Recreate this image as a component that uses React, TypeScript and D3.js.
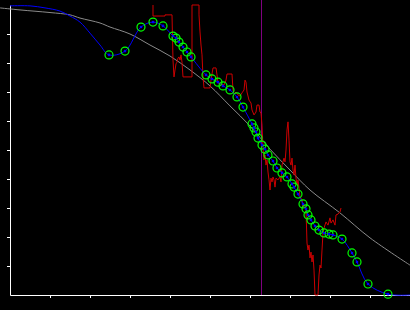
import React, { useEffect, useRef } from "react";
import * as d3 from "d3";

const W = 410;
const H = 310;

// x: time units (0..400), y: percent (0..100)
const xTicks = [40, 80, 120, 160, 200, 240, 280, 320, 360];
const yTicks = [10, 20, 30, 40, 50, 60, 70, 80, 90];

const markerTime = 251;

const modelCurve: [number, number][] = [
  [-10, 99.0], [10, 98.3], [40, 97.4], [60, 96.6], [70, 95.5], [90, 93.8],
  [100, 92.4], [120, 90.0], [140, 86.2], [160, 82.4], [180, 77.6], [200, 72.1],
  [220, 65.2], [240, 58.3], [260, 50.3], [280, 43.1], [300, 36.2], [330, 28.3],
  [360, 19.7], [400, 10.3],
];

const observed: [number, number][] = [
  [143, 100], [143, 96.2], [155, 96.2], [155, 96.6], [162, 96.6], [163, 81.0],
  [164, 75.2], [165, 77.6], [166, 79.7], [167, 80.3], [168, 81.7], [169, 82.1],
  [170, 81.0], [171, 82.8], [172, 80.3], [173, 75.2], [182, 75.2], [182, 100],
  [189, 100], [189, 96.6], [190, 90.7], [191, 86.2], [192, 82.8], [193, 75.2],
  [194, 71.4], [200, 71.4], [201, 74.1], [203, 78.3], [206, 78.3], [207, 75.9],
  [208, 73.1], [214, 72.4], [216, 74.1], [217, 76.2], [222, 76.2], [223, 70.7],
  [224, 69.3], [226, 70.0], [228, 69.0], [230, 68.6], [232, 69.7], [234, 70.7],
  [235, 74.1], [236, 73.4], [237, 70.0], [239, 67.2], [241, 66.2], [242, 63.8],
  [244, 62.1], [246, 63.1], [247, 65.5], [249, 65.5], [250, 63.1], [251, 62.8],
  [252, 58.6], [253, 50.7], [254, 46.6], [255, 48.3], [256, 44.8], [257, 46.6],
  [258, 42.4], [259, 39.7], [260, 36.2], [261, 40.3], [262, 39.0], [263, 40.7],
  [264, 39.7], [265, 37.2], [266, 40.3], [268, 39.7], [270, 40.7], [271, 39.0],
  [272, 44.8], [274, 47.2], [275, 45.9], [276, 50.0], [277, 56.9], [278, 59.7],
  [279, 53.4], [280, 45.9], [281, 44.8], [282, 47.2], [283, 43.1], [284, 41.4],
  [285, 44.8], [286, 40.3], [287, 37.9], [288, 39.7], [289, 36.9], [290, 33.8],
  [292, 32.8], [293, 30.3], [295, 31.0], [296, 29.3], [297, 17.9], [298, 15.5],
  [299, 17.2], [300, 12.8], [301, 14.8], [302, 11.4], [303, 13.8], [304, 8.6],
  [305, 0], [308, 0], [309, 6.9], [310, 10.3], [311, 9.3], [312, 15.5],
  [313, 21.4], [314, 23.1], [316, 25.2], [318, 24.1], [320, 26.6], [321, 24.8],
  [323, 25.9], [325, 24.1], [326, 27.6], [328, 27.9], [330, 28.6], [331, 30.0],
];

const smoothLead: [number, number][] = [
  [0, 99.7], [20, 99.7], [35, 99.0], [50, 97.9], [60, 96.2], [70, 94.1],
  [80, 90.3], [90, 86.2],
];

const smoothPoints: [number, number][] = [
  [99, 82.8], [115, 84.1], [131, 92.4], [143, 94.1], [153, 92.8], [163, 89.3],
  [166, 88.6], [169, 87.2], [173, 85.5], [177, 83.8], [181, 82.1], [196, 75.9],
  [202, 74.5], [208, 73.4], [213, 72.1], [220, 70.7], [227, 68.3], [233, 64.8],
  [242, 59.0], [244, 57.6], [246, 56.2], [248, 54.1], [252, 51.7], [255, 50.3],
  [258, 48.3], [263, 46.2], [267, 43.8], [272, 42.1], [277, 40.7], [282, 38.3],
  [284, 37.2], [288, 34.8], [293, 31.4], [296, 29.7], [298, 27.6], [301, 25.9],
  [305, 23.8], [309, 22.4], [314, 21.4], [319, 21.0], [323, 20.7], [332, 19.3],
  [342, 14.5], [347, 11.4], [358, 3.8], [378, 0.3],
];

const smoothTail: [number, number][] = [[400, 0]];

export default function App() {
  const ref = useRef<SVGSVGElement | null>(null);

  useEffect(() => {
    document.body.style.margin = "0";
    document.body.style.background = "#000";
    const svg = d3.select(ref.current);
    svg.selectAll("*").remove();

    const x = d3.scaleLinear().domain([0, 400]).range([10, 410]);
    const y = d3.scaleLinear().domain([0, 100]).range([295, 5]);

    // axes
    const gx = svg
      .append("g")
      .attr("transform", `translate(0,${y(0)})`)
      .call(
        d3
          .axisBottom(x)
          .tickValues(xTicks)
          .tickSize(3)
          .tickSizeOuter(0)
          .tickFormat(() => "")
      );
    const gy = svg
      .append("g")
      .attr("transform", `translate(${x(0)},0)`)
      .call(
        d3
          .axisLeft(y)
          .tickValues(yTicks)
          .tickSize(3)
          .tickSizeOuter(0)
          .tickFormat(() => "")
      );
    [gx, gy].forEach((g) => {
      g.selectAll("path").attr("stroke", "#fff").attr("stroke-width", 1);
      g.selectAll("line").attr("stroke", "#fff").attr("stroke-width", 1);
    });

    const line = d3
      .line<[number, number]>()
      .x((d) => x(d[0]))
      .y((d) => y(d[1]));

    // model curve
    svg
      .append("path")
      .datum(modelCurve)
      .attr("d", line.curve(d3.curveCatmullRom.alpha(0.5)))
      .attr("fill", "none")
      .attr("stroke", "#8a8a8a")
      .attr("stroke-width", 1);

    // vertical marker
    svg
      .append("line")
      .attr("x1", Math.round(x(markerTime)) + 0.5)
      .attr("x2", Math.round(x(markerTime)) + 0.5)
      .attr("y1", 0)
      .attr("y2", y(0))
      .attr("stroke", "#800080")
      .attr("stroke-width", 1);

    // observed noisy series
    svg
      .append("path")
      .datum(observed)
      .attr("d", line.curve(d3.curveLinear))
      .attr("fill", "none")
      .attr("stroke", "#cc0000")
      .attr("stroke-width", 1);

    // smoothed series
    const all = [...smoothLead, ...smoothPoints, ...smoothTail];
    svg
      .append("path")
      .datum(all)
      .attr("d", line.curve(d3.curveCatmullRom.alpha(0.5)))
      .attr("fill", "none")
      .attr("stroke", "#0000ff")
      .attr("stroke-width", 1);

    const pts = svg.append("g");
    pts
      .selectAll("circle.ring")
      .data(smoothPoints)
      .join("circle")
      .attr("class", "ring")
      .attr("cx", (d) => x(d[0]))
      .attr("cy", (d) => y(d[1]))
      .attr("r", 4)
      .attr("fill", "none")
      .attr("stroke", "#00ff00")
      .attr("stroke-width", 1.2);
    pts
      .selectAll("circle.dot")
      .data(smoothPoints)
      .join("circle")
      .attr("class", "dot")
      .attr("cx", (d) => x(d[0]))
      .attr("cy", (d) => y(d[1]))
      .attr("r", 1.3)
      .attr("fill", "#0000ff");
  }, []);

  return (
    <svg
      ref={ref}
      width={W}
      height={H}
      style={{ position: "absolute", left: 0, top: 0, background: "#000", display: "block" }}
    />
  );
}
